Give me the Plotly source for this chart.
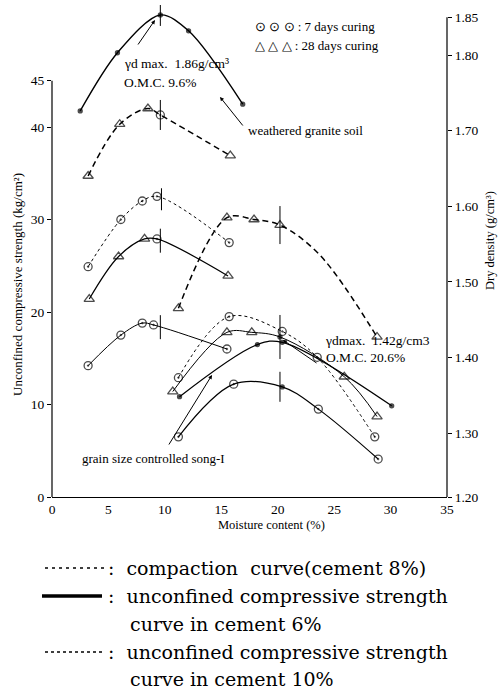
import numpy as np
import plotly.graph_objects as go

# ---------------- data (moisture content %, strength kg/cm2, dry density g/cm3) -------------
# weathered granite soil
wg_comp_w = [2.5, 5.8, 9.6, 12.1, 16.9]
wg_comp_d = [1.726, 1.803, 1.853, 1.832, 1.735]

wg_28d_c10_w = [3.2, 6.0, 8.5, 9.6, 15.8]
wg_28d_c10_s = [34.7, 40.3, 42.0, 41.3, 36.9]
wg_28d_c10_m = ["tri", "tri", "tri", "cir", "tri"]

wg_7d_c10_w = [3.2, 6.1, 8.0, 9.3, 15.7]
wg_7d_c10_s = [24.9, 30.0, 32.0, 32.5, 27.5]
wg_7d_c10_m = ["cir", "cir", "cir", "cir", "cir"]

wg_28d_c6_w = [3.3, 5.9, 8.2, 9.3, 15.6]
wg_28d_c6_s = [21.4, 26.0, 27.9, 27.9, 23.9]
wg_28d_c6_m = ["tri", "tri", "tri", "cir", "tri"]

wg_7d_c6_w = [3.2, 6.1, 8.0, 9.0, 15.5]
wg_7d_c6_s = [14.2, 17.5, 18.8, 18.6, 16.0]
wg_7d_c6_m = ["cir", "cir", "cir", "cir", "cir"]

# grain size controlled song-I
sg_comp_w = [11.3, 18.2, 20.4, 30.1]
sg_comp_d = [1.348, 1.417, 1.420, 1.336]

sg_28d_c10_w = [11.2, 15.5, 17.9, 20.2, 23.7, 28.8]
sg_28d_c10_s = [20.4, 30.2, 30.0, 29.4, 26.2, 17.3]
sg_28d_c10_m = ["tri", "tri", "tri", "tri", None, "tri"]

sg_7d_c10_w = [11.2, 15.7, 20.4, 23.5, 28.6]
sg_7d_c10_s = [12.9, 19.5, 17.9, 15.1, 6.5]
sg_7d_c10_m = ["cir", "cir", "cir", "cir", "cir"]

sg_28d_c6_w = [10.7, 15.5, 17.7, 20.2, 25.9, 28.8]
sg_28d_c6_s = [11.4, 17.8, 17.8, 17.3, 13.0, 8.7]
sg_28d_c6_m = ["tri", "tri", "tri", "dot", "tri", "tri"]

sg_7d_c6_w = [11.2, 16.1, 20.4, 23.6, 28.9]
sg_7d_c6_s = [6.5, 12.2, 11.9, 9.5, 4.1]
sg_7d_c6_m = ["cir", "cir", "dot", "cir", "cir"]

omc_wg = 9.6
omc_sg = 20.2

x_ticks = [0, 5, 10, 15, 20, 25, 30, 35]
s_ticks = [0, 10, 20, 30, 40, 45]
d_ticks = [1.30, 1.40, 1.50, 1.60, 1.70, 1.80, 1.85]

# ---------------- layout geometry ----------------
W, H = 502, 692
ML, MR, MT, MB = 52, 55, 5, 195
PW, PH = W - ML - MR, H - MT - MB
BOT = MT + PH  # pixel row of x axis
S_RANGE = [0, PH / 9.25]
D_RANGE = [1.30 - (BOT - 433) / 756, 1.30 + (433 - MT) / 756]
SERIF = "Liberation Serif, Times New Roman, serif"

SYM = {"tri": "triangle-up-open", "cir": "circle-open-dot", "dot": "circle"}
SIZE = {"tri": 9, "cir": 8, "dot": 4}

fig = go.Figure()


def curve(w, v, marks=None, dash="solid", width=1.1, yaxis="y", smooth=1.0):
    fig.add_trace(go.Scatter(
        x=w, y=v, mode="lines", yaxis=yaxis,
        line=dict(color="black", width=width, dash=dash, shape="spline", smoothing=smooth),
        hoverinfo="skip", showlegend=False))
    if marks is not None:
        mw = [a for a, m in zip(w, marks) if m]
        mv = [b for b, m in zip(v, marks) if m]
        ms = [SYM[m] for m in marks if m]
        sz = [SIZE[m] for m in marks if m]
        fig.add_trace(go.Scatter(
            x=mw, y=mv, mode="markers", yaxis=yaxis,
            marker=dict(symbol=ms, size=sz, color="black",
                        line=dict(color="black", width=1.3)),
            hoverinfo="skip", showlegend=False))


def omc_tick(w, v, omc, half_px, yaxis="y"):
    c = float(np.interp(omc, w, v))
    rng = S_RANGE if yaxis == "y" else D_RANGE
    h = half_px * (rng[1] - rng[0]) / PH
    fig.add_trace(go.Scatter(x=[omc, omc], y=[c - h, c + h], mode="lines", yaxis=yaxis,
                             line=dict(color="black", width=1), hoverinfo="skip", showlegend=False))


LONG = "6px,4px"
FINE = "3px,3px"

# weathered granite soil curves
curve(wg_comp_w, wg_comp_d, ["dot"] * 5, width=1.4, yaxis="y2", smooth=0.9)
curve(wg_28d_c10_w, wg_28d_c10_s, wg_28d_c10_m, dash=LONG, width=1.5)
curve(wg_7d_c10_w, wg_7d_c10_s, wg_7d_c10_m, dash=FINE, width=1.0)
curve(wg_28d_c6_w, wg_28d_c6_s, wg_28d_c6_m, width=1.2)
curve(wg_7d_c6_w, wg_7d_c6_s, wg_7d_c6_m, width=1.0)

# song-I curves
curve(sg_comp_w, sg_comp_d, ["dot"] * 4, width=1.3, yaxis="y2")
curve(sg_28d_c10_w, sg_28d_c10_s, sg_28d_c10_m, dash=LONG, width=1.5)
curve(sg_7d_c10_w, sg_7d_c10_s, sg_7d_c10_m, dash=FINE, width=1.0)
curve(sg_28d_c6_w, sg_28d_c6_s, sg_28d_c6_m, width=1.0)
curve(sg_7d_c6_w, sg_7d_c6_s, sg_7d_c6_m, width=1.2)

# OMC markers
omc_tick(wg_comp_w, wg_comp_d, omc_wg, 11, "y2")
omc_tick(wg_28d_c10_w, wg_28d_c10_s, omc_wg, 15)
omc_tick(wg_7d_c10_w, wg_7d_c10_s, omc_wg + 0.1, 11)
omc_tick(wg_28d_c6_w, wg_28d_c6_s, omc_wg, 12)
omc_tick(wg_7d_c6_w, wg_7d_c6_s, omc_wg, 12)
omc_tick(sg_28d_c10_w, sg_28d_c10_s, omc_sg, 19)
omc_tick(sg_28d_c6_w, sg_28d_c6_s, omc_sg, 22)
omc_tick(sg_7d_c6_w, sg_7d_c6_s, omc_sg, 15)


def px_x(px):
    return (px - ML) / PW


def px_y(py):
    return (BOT - py) / PH


ann = []


def text(t, px, py, size=13, xanchor="left", angle=0, family=SERIF):
    ann.append(dict(text=t, x=px_x(px), y=px_y(py), xref="paper", yref="paper",
                    xanchor=xanchor, yanchor="middle", showarrow=False, textangle=angle,
                    font=dict(family=family, size=size, color="black")))


def arrow(tip_px, tip_py, tail_px, tail_py):
    ann.append(dict(text="", x=px_x(tip_px), y=px_y(tip_py), xref="paper", yref="paper",
                    ax=tail_px - tip_px, ay=tail_py - tip_py, showarrow=True,
                    arrowhead=2, arrowsize=0.8, arrowwidth=1, arrowcolor="black", standoff=0))


text("γd max.  1.86g/cm³", 122, 63, 13.5)
text("O.M.C. 9.6%", 122, 82, 13.5)
arrow(155, 20, 137, 46)
text("weathered granite soil", 246, 130, 13)
arrow(220, 97, 244, 127)
text("grain size controlled song-I", 80, 458, 13)
arrow(212, 375, 168, 446)
text("γdmax.  1.42g/cm3", 323, 341, 13.5)
text("O.M.C. 20.6%", 324, 357, 13.5)
arrow(283, 340, 318, 364)
text("⊙ ⊙ ⊙ : 7 days curing", 253, 27, 13)
text("△ △ △ : 28 days curing", 253, 45, 13)

# axis titles
text("Moisture content (%)", 271, 525, 12.5, xanchor="center")
text("Unconfined compressive strength (kg/cm²)", 17, 285, 13, xanchor="center", angle=-90)
text("Dry density (g/cm³)", 490, 240, 12.5, xanchor="center", angle=-90)

# bottom legend
LEG = "DejaVu Serif, serif"
LS = 19
text(":  compaction  curve(cement 8%)", 106, 568, LS, family=LEG)
text(":  unconfined compressive strength", 106, 596, LS, family=LEG)
text("curve in cement 6%", 128, 624, LS, family=LEG)
text(":  unconfined compressive strength", 106, 652, LS, family=LEG)
text("curve in cement 10%", 128, 679, LS, family=LEG)

shapes = [
    dict(type="line", xref="paper", yref="y", x0=0, x1=0, y0=0, y1=45,
         line=dict(color="black", width=1.2)),
    dict(type="line", xref="paper", yref="y2", x0=1, x1=1, y0=D_RANGE[0], y1=1.85,
         line=dict(color="black", width=1.2)),
    dict(type="line", xref="paper", yref="paper", x0=px_x(45), x1=px_x(104),
         y0=px_y(568), y1=px_y(568), line=dict(color="black", width=1.3, dash="3px,4px")),
    dict(type="line", xref="paper", yref="paper", x0=px_x(42), x1=px_x(102),
         y0=px_y(596), y1=px_y(596), line=dict(color="black", width=3.5)),
    dict(type="line", xref="paper", yref="paper", x0=px_x(45), x1=px_x(104),
         y0=px_y(652), y1=px_y(652), line=dict(color="black", width=1.5, dash="dot")),
]

fig.update_layout(
    width=W, height=H, margin=dict(l=ML, r=MR, t=MT, b=MB),
    paper_bgcolor="white", plot_bgcolor="white",
    font=dict(family=SERIF, size=13, color="black"),
    xaxis=dict(range=[0, 35], tickvals=x_ticks, showgrid=False, zeroline=False,
               showline=True, linecolor="black", linewidth=1.2, ticks="", ticklen=3,
               tickfont=dict(family=SERIF, size=13.5)),
    yaxis=dict(range=S_RANGE, tickvals=s_ticks, showgrid=False, zeroline=False,
               showline=False, ticks="outside", ticklen=4, tickcolor="black",
               tickfont=dict(family=SERIF, size=13.5)),
    yaxis2=dict(range=D_RANGE, overlaying="y", side="right",
                tickvals=[D_RANGE[0]] + d_ticks,
                ticktext=["1.20"] + ["%.2f" % t for t in d_ticks],
                showgrid=False, zeroline=False, showline=False,
                ticks="outside", ticklen=4, tickcolor="black",
                tickfont=dict(family=SERIF, size=13.5)),
    annotations=ann, shapes=shapes,
)

fig.write_html("out.html")
